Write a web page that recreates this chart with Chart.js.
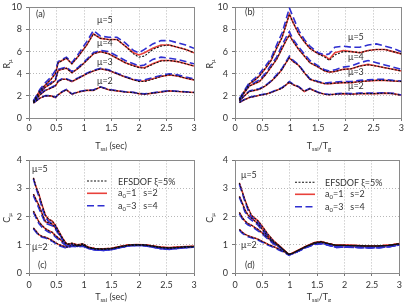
<!DOCTYPE html>
<html>
<head>
<meta charset="utf-8">
<script src="https://cdn.jsdelivr.net/npm/chart.js@4.4.1/dist/chart.umd.min.js"></script>
<style>
body { margin:0; width:406px; height:302px; position:relative; overflow:hidden; background:#fff; font-family:Lato, "Liberation Sans", sans-serif; color:#333; }
canvas { position:absolute; }
.t { position:absolute; font-size:9px; line-height:1; white-space:nowrap; }
.c { transform:translate(-50%,-50%); }
.r { transform:translate(-50%,-50%) rotate(-90deg); }
.l { transform:translateY(-50%); }
sub { font-size:6px; vertical-align:-2px; }
</style>
</head>
<body>
<canvas id="ca" width="203" height="153" style="left:0;top:-2px"></canvas>
<canvas id="cb" width="203" height="153" style="left:203px;top:-2px"></canvas>
<canvas id="cc" width="203" height="151" style="left:0;top:151px"></canvas>
<canvas id="cd" width="203" height="151" style="left:203px;top:151px"></canvas>

<div class="t r" style="left:7px;top:64px">R<sub>μ</sub></div>
<div class="t r" style="left:210px;top:64px">R<sub>μ</sub></div>
<div class="t r" style="left:7px;top:218px">C<sub>μ</sub></div>
<div class="t r" style="left:210px;top:218px">C<sub>μ</sub></div>
<div class="t c" style="left:111px;top:146px">T<sub>ssi</sub> (sec)</div>
<div class="t c" style="left:319px;top:146px">T<sub>ssi</sub>/T<sub>g</sub></div>
<div class="t c" style="left:111px;top:297px">T<sub>ssi</sub> (sec)</div>
<div class="t c" style="left:319px;top:297px">T<sub>ssi</sub>/T<sub>g</sub></div>

<div class="t l" style="left:36px;top:13px">(a)</div>
<div class="t l" style="left:97px;top:19px">μ=5</div>
<div class="t l" style="left:97px;top:42px">μ=4</div>
<div class="t l" style="left:97px;top:61px">μ=3</div>
<div class="t l" style="left:97px;top:80px">μ=2</div>

<div class="t l" style="left:245px;top:11px">(b)</div>
<div class="t l" style="left:348px;top:36px">μ=5</div>
<div class="t l" style="left:348px;top:56px">μ=4</div>
<div class="t l" style="left:348px;top:71px">μ=3</div>
<div class="t l" style="left:348px;top:85px">μ=2</div>

<div class="t l" style="left:32px;top:168px">μ=5</div>
<div class="t l" style="left:32px;top:246px">μ=2</div>
<div class="t l" style="left:38px;top:264px">(c)</div>
<div class="t l" style="left:118px;top:181px">EFSDOF ξ=5%</div>
<div class="t l" style="left:118px;top:193px">a<sub>0</sub>=1&nbsp;&nbsp;&nbsp;s=2</div>
<div class="t l" style="left:118px;top:206px">a<sub>0</sub>=3&nbsp;&nbsp;&nbsp;s=4</div>

<div class="t l" style="left:241px;top:174px">μ=5</div>
<div class="t l" style="left:241px;top:244px">μ=2</div>
<div class="t l" style="left:245px;top:264px">(d)</div>
<div class="t l" style="left:325px;top:182px">EFSDOF ξ=5%</div>
<div class="t l" style="left:325px;top:194px">a<sub>0</sub>=1&nbsp;&nbsp;&nbsp;s=2</div>
<div class="t l" style="left:325px;top:207px">a<sub>0</sub>=3&nbsp;&nbsp;&nbsp;s=4</div>

<script>
// (a) R_mu vs Tssi (sec)
var aX = [0.08,0.2,0.3,0.4,0.48,0.53,0.6,0.68,0.78,0.9,1.05,1.17,1.3,1.45,1.6,1.75,1.9,2.0,2.1,2.25,2.4,2.55,2.7,2.85,3.0];
var aEfs5 = [1.5,2.5,3.0,3.5,4.0,5.0,5.2,5.4,4.9,5.6,6.6,7.6,7.2,7.1,7.1,6.5,5.8,5.5,5.6,6.2,6.5,6.6,6.4,6.2,5.9];
var aRed5 = [1.5,2.5,3.0,3.5,4.0,5.0,5.2,5.4,4.9,5.6,6.6,7.6,7.2,7.1,7.1,6.5,5.9,5.7,5.9,6.3,6.6,6.6,6.4,6.2,5.9];
var aBlue5 = [1.55,2.6,3.2,3.7,4.3,5.1,5.3,5.5,5.0,5.8,6.9,7.9,7.4,7.3,7.3,6.8,6.1,5.9,6.2,6.7,7.0,7.0,6.8,6.6,6.3];
var aEfs4 = [1.45,2.3,2.8,3.1,3.4,4.3,4.4,4.5,4.1,4.5,5.2,5.8,6.0,5.8,5.4,5.0,4.7,4.55,4.5,4.85,5.15,5.2,5.1,4.9,4.7];
var aRed4 = [1.45,2.3,2.8,3.1,3.4,4.3,4.4,4.5,4.1,4.5,5.2,5.8,6.0,5.8,5.4,5.0,4.75,4.6,4.55,4.9,5.2,5.2,5.1,4.9,4.7];
var aBlue4 = [1.5,2.4,2.9,3.2,3.5,4.4,4.5,4.6,4.2,4.6,5.3,5.9,6.1,6.0,5.6,5.2,4.9,4.7,4.8,5.3,5.5,5.4,5.3,5.1,4.9];
var aEfs3 = [1.4,2.1,2.5,2.7,2.9,3.3,3.5,3.5,3.3,3.6,4.0,4.25,4.45,4.3,4.0,3.7,3.45,3.3,3.3,3.5,3.75,3.9,3.8,3.6,3.45];
var aRed3 = [1.4,2.1,2.5,2.7,2.9,3.3,3.5,3.5,3.3,3.6,4.0,4.25,4.45,4.3,4.0,3.7,3.45,3.35,3.35,3.55,3.75,3.9,3.8,3.6,3.45];
var aBlue3 = [1.42,2.15,2.55,2.75,2.95,3.35,3.55,3.55,3.35,3.65,4.05,4.3,4.5,4.35,4.05,3.75,3.5,3.4,3.45,3.65,3.85,4.0,3.9,3.7,3.55];
var aEfs2 = [1.35,1.8,2.0,2.0,1.85,2.1,2.35,2.55,2.15,2.35,2.5,2.5,2.8,2.55,2.45,2.35,2.3,2.2,2.15,2.25,2.35,2.45,2.4,2.35,2.3];
var aRed2 = [1.35,1.8,2.0,2.0,1.85,2.1,2.35,2.55,2.15,2.35,2.5,2.5,2.8,2.55,2.45,2.35,2.3,2.2,2.15,2.25,2.35,2.45,2.4,2.35,2.3];
var aBlue2 = [1.37,1.82,2.02,2.02,1.88,2.12,2.38,2.58,2.18,2.38,2.52,2.53,2.82,2.58,2.47,2.37,2.32,2.22,2.18,2.28,2.38,2.47,2.42,2.38,2.32];

// (b) R_mu vs Tssi/Tg
var bX = [0.08,0.17,0.26,0.35,0.44,0.55,0.65,0.75,0.85,0.92,0.98,1.05,1.15,1.25,1.35,1.5,1.62,1.7,1.8,1.95,2.1,2.25,2.4,2.55,2.7,2.85,3.0];
var bEfs5 = [1.7,2.4,3.1,3.4,3.8,4.5,5.2,6.3,7.3,8.4,9.4,8.6,7.6,6.9,6.3,5.8,5.5,5.2,5.7,6.0,6.0,5.9,6.1,6.2,6.2,6.0,5.8];
var bRed5 = [1.7,2.4,3.1,3.4,3.8,4.5,5.2,6.3,7.3,8.4,9.4,8.6,7.6,6.9,6.3,5.8,5.6,5.3,5.9,6.1,6.0,5.9,6.1,6.2,6.2,6.0,5.8];
var bBlue5 = [1.75,2.5,3.2,3.55,4.0,4.7,5.4,6.6,7.7,8.9,9.95,9.1,7.9,7.1,6.5,5.9,5.7,5.8,6.4,6.5,6.4,6.4,6.6,6.7,6.5,6.3,6.0];
var bEfs4 = [1.65,2.3,2.9,3.1,3.3,3.9,4.6,5.3,6.3,7.0,7.5,6.9,6.2,5.6,5.0,4.6,4.25,4.15,4.2,4.4,4.45,4.7,4.8,4.7,4.55,4.4,4.25];
var bRed4 = [1.65,2.3,2.9,3.1,3.3,3.9,4.6,5.3,6.3,7.0,7.5,6.9,6.2,5.6,5.0,4.6,4.25,4.15,4.2,4.4,4.45,4.7,4.85,4.7,4.55,4.4,4.25];
var bBlue4 = [1.7,2.4,3.0,3.2,3.45,4.05,4.8,5.5,6.6,7.3,7.8,7.1,6.4,5.8,5.2,4.7,4.35,4.25,4.35,4.6,4.7,5.0,5.2,5.0,4.8,4.6,4.4];
var bEfs3 = [1.55,2.0,2.4,2.5,2.6,2.9,3.3,3.8,4.4,5.0,5.45,5.1,4.75,4.1,3.5,3.25,3.1,3.1,3.15,3.2,3.2,3.3,3.35,3.4,3.4,3.35,3.3];
var bRed3 = [1.55,2.0,2.4,2.5,2.6,2.9,3.3,3.8,4.4,5.0,5.45,5.1,4.75,4.1,3.5,3.25,3.1,3.1,3.15,3.2,3.2,3.3,3.35,3.4,3.4,3.35,3.3];
var bBlue3 = [1.58,2.05,2.45,2.55,2.65,2.95,3.35,3.9,4.5,5.1,5.6,5.2,4.8,4.15,3.55,3.3,3.15,3.2,3.25,3.3,3.3,3.4,3.45,3.5,3.5,3.4,3.35];
var bEfs2 = [1.4,1.65,1.85,1.95,2.05,2.15,2.3,2.5,2.7,3.0,3.25,3.0,2.8,2.4,2.65,2.3,2.15,2.1,2.15,2.2,2.15,2.2,2.2,2.2,2.25,2.2,2.05];
var bRed2 = [1.4,1.65,1.85,1.95,2.05,2.15,2.3,2.5,2.7,3.0,3.25,3.0,2.8,2.4,2.65,2.3,2.15,2.1,2.15,2.2,2.15,2.2,2.2,2.2,2.25,2.2,2.05];
var bBlue2 = [1.42,1.68,1.88,1.98,2.08,2.18,2.33,2.53,2.75,3.05,3.3,3.05,2.83,2.43,2.67,2.33,2.18,2.13,2.18,2.24,2.2,2.25,2.25,2.25,2.28,2.23,2.08];

// (c) C_mu vs Tssi (sec)
var cX = [0.08,0.13,0.18,0.24,0.3,0.36,0.42,0.48,0.55,0.62,0.69,0.78,0.88,0.98,1.08,1.2,1.35,1.5,1.65,1.8,1.95,2.1,2.25,2.4,2.55,2.7,2.85,3.0];
var cEfs5 = [3.38,3.05,2.8,2.4,2.05,1.9,1.85,1.7,1.45,1.2,1.0,1.06,1.0,1.05,0.92,0.86,0.84,0.86,0.92,0.98,1.0,1.0,0.96,0.9,0.88,0.9,0.92,0.93];
var cRed5 = [3.38,3.05,2.8,2.4,2.05,1.9,1.85,1.7,1.45,1.2,1.0,1.05,1.0,1.03,0.92,0.86,0.84,0.86,0.92,0.98,1.0,1.0,0.96,0.9,0.88,0.9,0.92,0.93];
var cBlue5 = [3.35,3.0,2.72,2.3,1.98,1.82,1.78,1.65,1.4,1.15,0.92,1.0,0.96,0.98,0.88,0.82,0.8,0.83,0.9,0.96,0.98,0.98,0.93,0.86,0.84,0.87,0.9,0.92];
var cEfs4 = [2.8,2.6,2.4,2.1,1.82,1.78,1.74,1.6,1.4,1.2,1.02,1.05,0.98,1.03,0.9,0.85,0.84,0.86,0.93,0.98,1.0,0.99,0.95,0.9,0.88,0.9,0.92,0.94];
var cRed4 = [2.8,2.6,2.4,2.1,1.82,1.78,1.74,1.6,1.4,1.2,1.02,1.04,0.98,1.02,0.9,0.85,0.84,0.86,0.93,0.98,1.0,0.99,0.95,0.9,0.88,0.9,0.92,0.94];
var cBlue4 = [2.75,2.52,2.3,2.02,1.76,1.72,1.68,1.55,1.35,1.15,0.95,1.0,0.95,0.98,0.87,0.82,0.8,0.83,0.9,0.96,0.98,0.97,0.92,0.86,0.84,0.87,0.9,0.92];
var cEfs3 = [2.2,2.0,1.82,1.68,1.57,1.5,1.45,1.33,1.22,1.1,1.02,1.03,0.97,1.01,0.9,0.86,0.85,0.87,0.93,0.99,1.0,0.99,0.95,0.91,0.89,0.91,0.93,0.94];
var cRed3 = [2.2,2.0,1.82,1.68,1.57,1.5,1.45,1.33,1.22,1.1,1.02,1.02,0.97,1.0,0.9,0.86,0.85,0.87,0.93,0.99,1.0,0.99,0.95,0.91,0.89,0.91,0.93,0.94];
var cBlue3 = [2.15,1.95,1.76,1.62,1.52,1.45,1.4,1.28,1.17,1.05,0.96,0.98,0.94,0.97,0.87,0.83,0.81,0.84,0.9,0.97,0.98,0.97,0.92,0.87,0.85,0.88,0.91,0.93];
var cEfs2 = [1.6,1.48,1.36,1.3,1.27,1.22,1.16,1.08,1.0,0.96,0.92,0.98,0.96,0.99,0.9,0.87,0.86,0.88,0.94,0.99,1.01,1.0,0.96,0.92,0.9,0.92,0.94,0.95];
var cRed2 = [1.6,1.48,1.36,1.3,1.27,1.22,1.16,1.08,1.0,0.96,0.92,0.98,0.96,0.98,0.9,0.87,0.86,0.88,0.94,0.99,1.01,1.0,0.96,0.92,0.9,0.92,0.94,0.95];
var cBlue2 = [1.57,1.45,1.33,1.27,1.24,1.19,1.13,1.05,0.97,0.92,0.88,0.95,0.93,0.95,0.87,0.84,0.82,0.85,0.91,0.97,0.99,0.98,0.93,0.88,0.86,0.89,0.92,0.94];

// (d) C_mu vs Tssi/Tg
var dX = [0.08,0.13,0.18,0.24,0.3,0.36,0.42,0.5,0.6,0.7,0.8,0.9,0.98,1.05,1.15,1.3,1.45,1.57,1.7,1.85,2.0,2.2,2.4,2.6,2.8,3.0];
var dEfs5 = [3.2,2.9,2.6,2.3,2.05,1.95,1.85,1.65,1.38,1.15,0.98,0.8,0.66,0.7,0.8,0.95,1.08,1.12,1.05,0.98,0.98,0.98,0.96,0.96,0.98,1.05];
var dRed5 = [3.2,2.9,2.6,2.3,2.05,1.95,1.85,1.65,1.38,1.15,0.98,0.8,0.66,0.7,0.8,0.95,1.08,1.12,1.05,0.98,0.98,0.98,0.96,0.96,0.98,1.05];
var dBlue5 = [3.15,2.85,2.55,2.22,1.98,1.9,1.8,1.6,1.33,1.1,0.94,0.77,0.64,0.68,0.77,0.92,1.04,1.07,1.0,0.91,0.92,0.92,0.9,0.9,0.93,1.0];
var dEfs4 = [2.72,2.5,2.25,2.05,1.95,1.85,1.75,1.55,1.3,1.12,0.98,0.8,0.66,0.7,0.8,0.95,1.07,1.11,1.05,0.98,0.98,0.97,0.96,0.96,0.98,1.04];
var dRed4 = [2.72,2.5,2.25,2.05,1.95,1.85,1.75,1.55,1.3,1.12,0.98,0.8,0.66,0.7,0.8,0.95,1.07,1.11,1.05,0.98,0.98,0.97,0.96,0.96,0.98,1.04];
var dBlue4 = [2.68,2.45,2.18,1.98,1.88,1.8,1.7,1.5,1.26,1.08,0.94,0.77,0.64,0.68,0.77,0.92,1.03,1.06,1.0,0.91,0.92,0.91,0.9,0.9,0.93,1.0];
var dEfs3 = [2.15,1.98,1.85,1.75,1.7,1.62,1.55,1.42,1.25,1.08,0.95,0.8,0.66,0.7,0.8,0.94,1.06,1.1,1.04,0.98,0.98,0.97,0.96,0.96,0.98,1.03];
var dRed3 = [2.15,1.98,1.85,1.75,1.7,1.62,1.55,1.42,1.25,1.08,0.95,0.8,0.66,0.7,0.8,0.94,1.06,1.1,1.04,0.98,0.98,0.97,0.96,0.96,0.98,1.03];
var dBlue3 = [2.1,1.93,1.8,1.7,1.65,1.58,1.5,1.38,1.2,1.04,0.92,0.77,0.64,0.68,0.77,0.91,1.02,1.05,0.99,0.92,0.92,0.91,0.9,0.9,0.93,0.99];
var dEfs2 = [1.55,1.45,1.38,1.32,1.28,1.24,1.2,1.12,1.02,0.94,0.85,0.75,0.66,0.7,0.8,0.94,1.05,1.09,1.04,0.98,0.98,0.97,0.96,0.96,0.98,1.02];
var dRed2 = [1.55,1.45,1.38,1.32,1.28,1.24,1.2,1.12,1.02,0.94,0.85,0.75,0.66,0.7,0.8,0.94,1.05,1.09,1.04,0.98,0.98,0.97,0.96,0.96,0.98,1.02];
var dBlue2 = [1.52,1.42,1.35,1.29,1.25,1.21,1.17,1.09,0.99,0.91,0.82,0.73,0.64,0.68,0.77,0.91,1.01,1.04,0.99,0.92,0.92,0.91,0.9,0.9,0.93,0.99];

var efsStyle = { color:'#111111', width:1.1, dash:[2,1.5], order:0 };
var redStyle = { color:'#e8413b', width:1.6, dash:[], order:2 };
var blueStyle = { color:'#2f2fd0', width:1.6, dash:[7,3.5], order:1 };

function line(xs, ys, st) {
  return {
    data: xs.map(function(x, i) { return { x: x, y: ys[i] }; }),
    borderColor: st.color, borderWidth: st.width, borderDash: st.dash,
    order: st.order, pointRadius: 0, fill: false, tension: 0
  };
}

var frame = {
  id: 'frame',
  beforeDatasetsDraw: function(chart) {
    var a = chart.chartArea, c = chart.ctx;
    c.save();
    c.strokeStyle = '#8a8a8a';
    c.lineWidth = 1;
    c.strokeRect(Math.round(a.left) + 0.5, Math.round(a.top) + 0.5, Math.round(a.right - a.left), Math.round(a.bottom - a.top));
    c.restore();
  }
};

var legendLines = {
  id: 'legendLines',
  afterDatasetsDraw: function(chart, args, opts) {
    if (!opts || !opts.rows) return;
    var c = chart.ctx;
    [efsStyle, redStyle, blueStyle].forEach(function(st, i) {
      c.save();
      c.strokeStyle = st.color;
      c.lineWidth = st.width;
      c.setLineDash(st.dash);
      c.beginPath();
      c.moveTo(opts.x0, opts.rows[i]);
      c.lineTo(opts.x1, opts.rows[i]);
      c.stroke();
      c.restore();
    });
  }
};

function panel(id, xs, groups, yMax, yStep, lay, leg) {
  var sets = [];
  groups.forEach(function(g) {
    sets.push(line(xs, g[0], efsStyle));
    sets.push(line(xs, g[1], redStyle));
    sets.push(line(xs, g[2], blueStyle));
  });
  var font = { family: 'Lato', size: 9 };
  return new Chart(document.getElementById(id), {
    type: 'line',
    data: { datasets: sets },
    plugins: [frame, legendLines],
    options: {
      responsive: false,
      animation: false,
      layout: { padding: { left: 0, right: lay.right, top: lay.top, bottom: 0 } },
      plugins: { legend: { display: false }, tooltip: { enabled: false }, legendLines: leg },
      scales: {
        x: {
          type: 'linear', min: 0, max: 3,
          ticks: { stepSize: 0.5, font: font, color: '#333', padding: lay.xpad, maxRotation: 0,
                   callback: function(v) { return String(v); } },
          grid: { color: '#b8b8b8', tickColor: '#777', tickLength: 3 },
          border: { color: '#777', dash: [1, 2] },
          afterFit: function(s) { s.height = lay.xh; }
        },
        y: {
          min: 0, max: yMax,
          ticks: { stepSize: yStep, font: font, color: '#333', padding: 4 },
          grid: { color: '#b8b8b8', tickColor: '#777', tickLength: 3 },
          border: { color: '#777', dash: [1, 2] },
          afterFit: function(s) { s.width = lay.yw; }
        }
      }
    }
  });
}

panel('ca', aX, [[aEfs5, aRed5, aBlue5], [aEfs4, aRed4, aBlue4], [aEfs3, aRed3, aBlue3], [aEfs2, aRed2, aBlue2]],
  10, 2, { right: 9, top: 5.3, xh: 33, yw: 29, xpad: 2 }, {});
panel('cb', bX, [[bEfs5, bRed5, bBlue5], [bEfs4, bRed4, bBlue4], [bEfs3, bRed3, bBlue3], [bEfs2, bRed2, bBlue2]],
  10, 2, { right: 4, top: 5.3, xh: 33, yw: 32, xpad: 2 }, {});
panel('cc', cX, [[cEfs5, cRed5, cBlue5], [cEfs4, cRed4, cBlue4], [cEfs3, cRed3, cBlue3], [cEfs2, cRed2, cBlue2]],
  4, 1, { right: 9, top: 7.3, xh: 29, yw: 29, xpad: 4 }, { x0: 87, x1: 107, rows: [30, 42.3, 54.7] });
panel('cd', dX, [[dEfs5, dRed5, dBlue5], [dEfs4, dRed4, dBlue4], [dEfs3, dRed3, dBlue3], [dEfs2, dRed2, dBlue2]],
  4, 1, { right: 4, top: 7.3, xh: 29, yw: 32, xpad: 4 }, { x0: 92, x1: 112, rows: [31.3, 43.3, 55.7] });
</script>
</body>
</html>
